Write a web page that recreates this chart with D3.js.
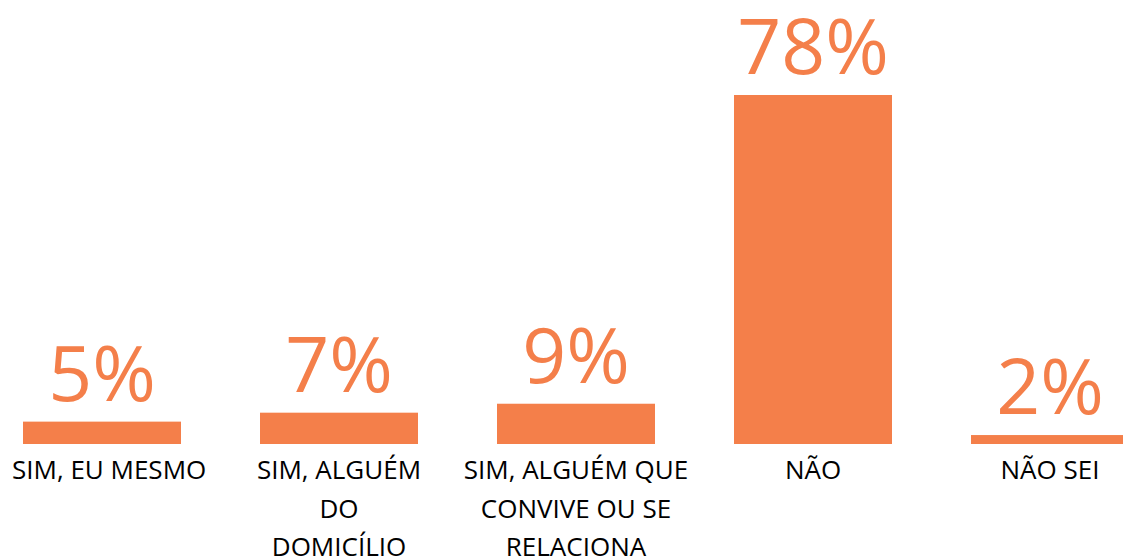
<!DOCTYPE html>
<html>
<head>
<meta charset="utf-8">
<script src="https://cdn.jsdelivr.net/npm/d3@7"></script>
<style>
  body { margin: 0; background: #fff; }
  svg { display: block; }
</style>
</head>
<body>
<div id="chart"></div>
<script>
// answer categories (line breaks as in the original chart)
var categories = ["SIM, EU MESMO", "SIM, ALGUÉM\nDO\nDOMICÍLIO", "SIM, ALGUÉM QUE\nCONVIVE OU SE\nRELACIONA", "NÃO", "NÃO SEI"];
var values = [5, 7, 9, 78, 2];
var valueLabels = ["5%", "7%", "9%", "78%", "2%"];

var width = 1123, height = 557;
var barColor = "#F47F4A";
var edgePad = 12; // labels are pushed in from the left edge

var svg = d3.select("#chart").append("svg")
    .attr("width", width)
    .attr("height", height);

// band scale runs a bit past both edges, the last bar is cut like in the original
var x = d3.scaleBand()
    .domain(categories)
    .range([-16.5, 1168.5])
    .paddingInner(1 / 3)
    .paddingOuter(1 / 6);

var y = d3.scaleLinear()
    .domain([0, 78])
    .range([444, 95]);

var bars = svg.append("g").attr("class", "bars");

bars.selectAll("rect")
    .data(values)
    .enter()
    .append("rect")
    .attr("x", function (d, i) { return x(categories[i]); })
    .attr("y", function (d) { return y(d); })
    .attr("width", x.bandwidth())
    .attr("height", function (d) { return y(0) - y(d); })
    .style("fill", barColor);

// big value labels above bars
svg.append("g").attr("class", "values")
    .selectAll("text")
    .data(values)
    .enter()
    .append("text")
    .attr("x", function (d, i) { return x(categories[i]) + x.bandwidth() / 2; })
    .attr("y", function (d) { return y(d) - 21; })
    .style("text-anchor", "middle")
    .style("font-family", "'Open Sans', sans-serif")
    .style("font-size", "77px")
    .style("fill", barColor)
    .text(function (d, i) { return valueLabels[i]; });

// category labels, one tspan per line
var cats = svg.append("g").attr("class", "cats")
    .selectAll("text")
    .data(categories)
    .enter()
    .append("text")
    .attr("y", 479)
    .style("text-anchor", "middle")
    .style("font-family", "'Open Sans', sans-serif")
    .style("font-size", "26px")
    .style("fill", "#000");

cats.each(function (d) {
    var t = d3.select(this);
    var lines = d.split("\n");
    lines.forEach(function (line, k) {
        t.append("tspan")
            .attr("dy", k === 0 ? 0 : 38.5)
            .text(line);
    });
    // keep the label off the left edge
    var cx = x(d) + x.bandwidth() / 2;
    var w = 0;
    t.selectAll("tspan").each(function () { w = Math.max(w, this.getComputedTextLength()); });
    cx = Math.max(cx, edgePad + w / 2);
    t.selectAll("tspan").attr("x", cx);
});
</script>
</body>
</html>
